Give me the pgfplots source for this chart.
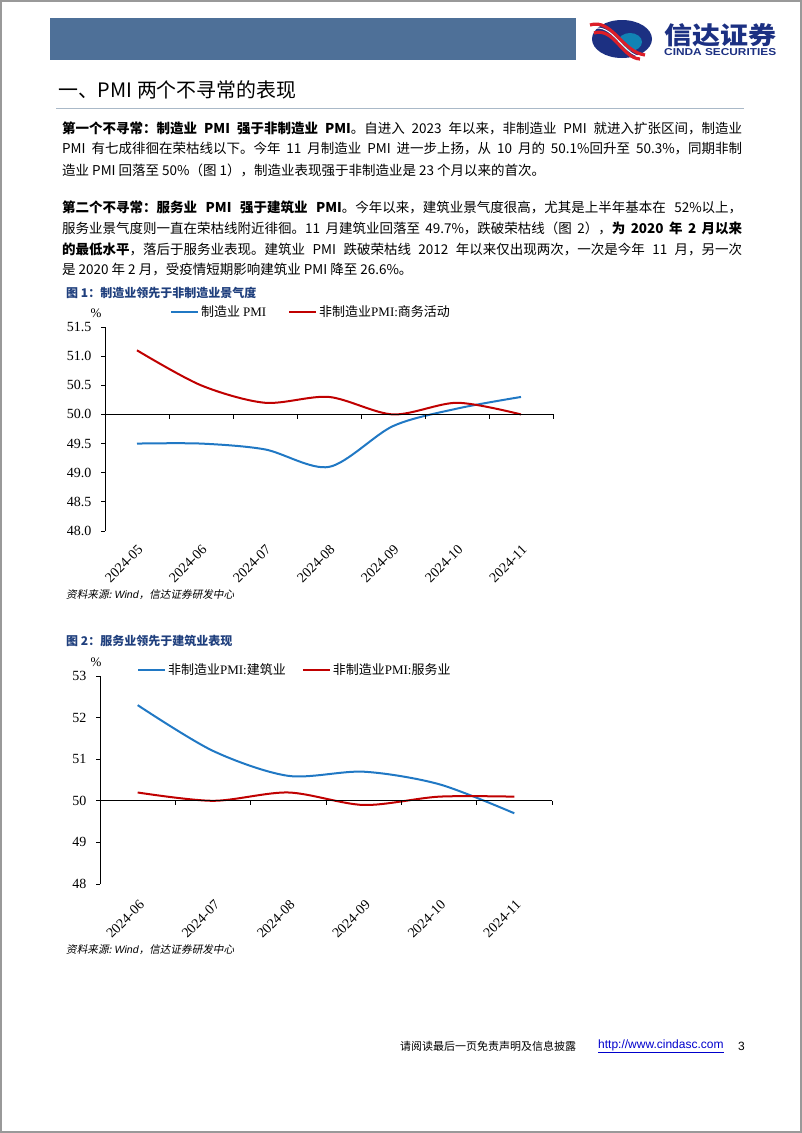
\documentclass[border=0pt]{standalone}
\usepackage{fontspec}
\usepackage{graphicx}
\usepackage{pgfplots}
\pgfplotsset{compat=1.18}
\setmainfont{Noto Sans CJK SC}
\newfontfamily\tnr{Liberation Serif}
\newfontfamily\arial{Liberation Sans}
\newfontfamily\cjkit{Noto Sans CJK SC}[FakeSlant=0.2]
\definecolor{headblue}{RGB}{78,112,152}
\definecolor{titleblue}{RGB}{31,63,125}
\definecolor{lineblue}{RGB}{32,120,196}
\definecolor{linered}{RGB}{192,0,0}
\definecolor{logonavy}{RGB}{28,48,130}
\definecolor{logored}{RGB}{220,30,40}
\definecolor{rulegray}{RGB}{170,185,200}
\XeTeXlinebreaklocale "zh"
\XeTeXlinebreakskip=0pt plus 2pt
\newcommand\jl[1]{\hbox to 680pt{#1}}
\begin{document}
\begin{tikzpicture}[x=1pt,y=1pt]
\path (0,0) rectangle (802,-1133);
\draw[gray!80, line width=2pt] (1,-1) rectangle (801,-1132);
% header
\fill[headblue] (50,-18) rectangle (576,-60);
\fill[logonavy] (622,-39) ellipse [x radius=30, y radius=19];
\fill[logonavy!60!cyan] (630,-42) ellipse [x radius=12, y radius=9];
\draw[logored, line width=3.2pt] (590,-25) .. controls (612,-18) and (622,-52) .. (645,-55);
\draw[logored, line width=3.2pt] (594,-33) .. controls (614,-27) and (622,-58) .. (640,-59);
\draw[white, line width=1pt] (592,-29) .. controls (613,-22) and (622,-55) .. (642,-57);
\node[anchor=west, inner sep=0, text=logonavy] at (664,-35) {\resizebox{112pt}{21pt}{\bfseries 信达证券}};
\node[anchor=west, inner sep=0, text=logonavy] at (664,-52) {\resizebox{112pt}{7pt}{\arial\bfseries CINDA SECURITIES}};
\node[anchor=west, inner sep=0] at (58,-90) {\resizebox{238pt}{!}{\fontsize{17}{20}\selectfont 一、PMI 两个不寻常的表现}};
\draw[rulegray, line width=1pt] (56,-108) -- (744,-108);
% body text
\begin{scope}[every node/.style={anchor=west, inner sep=0, font=\fontsize{13.5}{16}\selectfont}]
\node at (62,-128) {\jl{\textbf{第一个不寻常：制造业 PMI 强于非制造业 PMI}。自进入 2023 年以来，非制造业 PMI 就进入扩张区间，制造业}};
\node at (62,-149) {\jl{PMI 有七成徘徊在荣枯线以下。今年 11 月制造业 PMI 进一步上扬，从 10 月的 50.1\%回升至 50.3\%，同期非制}};
\node at (62,-170) {造业 PMI 回落至 50\%（图 1），制造业表现强于非制造业是 23 个月以来的首次。};
\node at (62,-207) {\jl{\textbf{第二个不寻常：服务业 PMI 强于建筑业 PMI}。今年以来，建筑业景气度很高，尤其是上半年基本在 52\%以上，}};
\node at (62,-228) {\jl{服务业景气度则一直在荣枯线附近徘徊。11 月建筑业回落至 49.7\%，跌破荣枯线（图 2），\textbf{为 2020 年 2 月以来}}};
\node at (62,-249) {\jl{\textbf{的最低水平}，落后于服务业表现。建筑业 PMI 跌破荣枯线 2012 年以来仅出现两次，一次是今年 11 月，另一次}};
\node at (62,-270) {是 2020 年 2 月，受疫情短期影响建筑业 PMI 降至 26.6\%。};
\end{scope}
% chart titles and sources
\node[anchor=west, inner sep=0, text=titleblue, font=\bfseries\fontsize{12}{14}\selectfont] at (66,-293) {图 1：制造业领先于非制造业景气度};
\node[anchor=west, inner sep=0, text=titleblue, font=\bfseries\fontsize{12}{14}\selectfont] at (66,-641) {图 2：服务业领先于建筑业表现};
\node[anchor=west, inner sep=0, font=\fontsize{10.6}{12}\selectfont] at (66,-595) {\cjkit 资料来源: \arial\itshape Wind\cjkit ，信达证券研发中心};
\node[anchor=west, inner sep=0, font=\fontsize{10.6}{12}\selectfont] at (66,-950) {\cjkit 资料来源: \arial\itshape Wind\cjkit ，信达证券研发中心};
\node[inner sep=0, font=\tnr\fontsize{13}{13}\selectfont] at (96,-313) {\%};
\node[inner sep=0, font=\tnr\fontsize{13}{13}\selectfont] at (96,-662) {\%};
% chart 1
\begin{axis}[
  at={(105pt,-531pt)}, anchor=south west,
  scale only axis, width=448pt, height=204pt,
  xmin=-0.5, xmax=6.5, ymin=48, ymax=51.5,
  axis lines*=left,
  x axis line style={draw=none},
  y axis line style={line width=1pt},
  xtick={0,...,6},
  xticklabels={2024-05,2024-06,2024-07,2024-08,2024-09,2024-10,2024-11},
  x tick style={draw=none},
  x tick label style={rotate=45, anchor=north east, font=\tnr\fontsize{14}{14}\selectfont, yshift=-3pt, xshift=-3pt},
  ytick={48,48.5,...,51.5},
  y tick style={line width=0.8pt, black},
  tick align=outside, major tick length=4pt,
  /pgf/number format/fixed, /pgf/number format/fixed zerofill, /pgf/number format/precision=1,
  /pgf/number format/assume math mode=true,
  y tick label style={font=\tnr\fontsize{14}{14}\selectfont, xshift=-6pt},
  clip=false,
  legend style={at={(0.46,1.073)}, anchor=center, draw=none, fill=none, legend columns=2,
    /tikz/every even column/.append style={column sep=20pt}, font=\fontsize{13}{13}\selectfont},
  legend image code/.code={\draw[#1, line width=2pt] (0pt,0pt) -- (27pt,0pt);},
]
\addplot[lineblue, line width=2pt, smooth, tension=0.5] coordinates {(0,49.5) (1,49.5) (2,49.4) (3,49.1) (4,49.8) (5,50.1) (6,50.3)};
\addlegendentry{制造业 {\tnr PMI}}
\addplot[linered, line width=2pt, smooth, tension=0.5] coordinates {(0,51.1) (1,50.5) (2,50.2) (3,50.3) (4,50.0) (5,50.2) (6,50.0)};
\addlegendentry{非制造业{\tnr PMI:}商务活动}
\draw[black, line width=1pt] (axis cs:-0.5,50) -- (axis cs:6.5,50);
\pgfplotsinvokeforeach{0.5,1.5,2.5,3.5,4.5,5.5,6.5}{\draw[black, line width=0.8pt] (axis cs:#1,50) -- (axis cs:#1,49.93);}
\end{axis}
% chart 2
\begin{axis}[
  at={(100pt,-884pt)}, anchor=south west,
  scale only axis, width=452pt, height=208pt,
  xmin=-0.5, xmax=5.5, ymin=48, ymax=53,
  axis lines*=left,
  x axis line style={draw=none},
  y axis line style={line width=1pt},
  xtick={0,...,5},
  xticklabels={2024-06,2024-07,2024-08,2024-09,2024-10,2024-11},
  x tick style={draw=none},
  x tick label style={rotate=45, anchor=north east, font=\tnr\fontsize{14}{14}\selectfont, yshift=-5pt, xshift=-4pt},
  ytick={48,...,53},
  y tick style={line width=0.8pt, black},
  tick align=outside, major tick length=4pt,
  /pgf/number format/assume math mode=true,
  y tick label style={font=\tnr\fontsize{14}{14}\selectfont, xshift=-6pt},
  clip=false,
  legend style={at={(0.431,1.029)}, anchor=center, draw=none, fill=none, legend columns=2,
    /tikz/every even column/.append style={column sep=14pt}, font=\fontsize{13}{13}\selectfont},
  legend image code/.code={\draw[#1, line width=2pt] (0pt,0pt) -- (27pt,0pt);},
]
\addplot[lineblue, line width=2pt, smooth, tension=0.5] coordinates {(0,52.3) (1,51.2) (2,50.6) (3,50.7) (4,50.4) (5,49.7)};
\addlegendentry{非制造业{\tnr PMI:}建筑业}
\addplot[linered, line width=2pt, smooth, tension=0.5] coordinates {(0,50.2) (1,50.0) (2,50.2) (3,49.9) (4,50.1) (5,50.1)};
\addlegendentry{非制造业{\tnr PMI:}服务业}
\draw[black, line width=1pt] (axis cs:-0.5,50) -- (axis cs:5.5,50);
\pgfplotsinvokeforeach{0.5,1.5,2.5,3.5,4.5,5.5}{\draw[black, line width=0.8pt] (axis cs:#1,50) -- (axis cs:#1,49.9);}
\end{axis}
% footer
\node[anchor=west, inner sep=0, font=\fontsize{11}{13}\selectfont] at (400,-1046) {请阅读最后一页免责声明及信息披露};
\node[anchor=west, inner sep=0, font=\arial\fontsize{12}{13}\selectfont, text=blue!80!black] at (598,-1046) {\underline{http://www.cindasc.com}};
\node[anchor=west, inner sep=0, font=\arial\fontsize{12}{13}\selectfont] at (738,-1046) {3};
\end{tikzpicture}
\end{document}
